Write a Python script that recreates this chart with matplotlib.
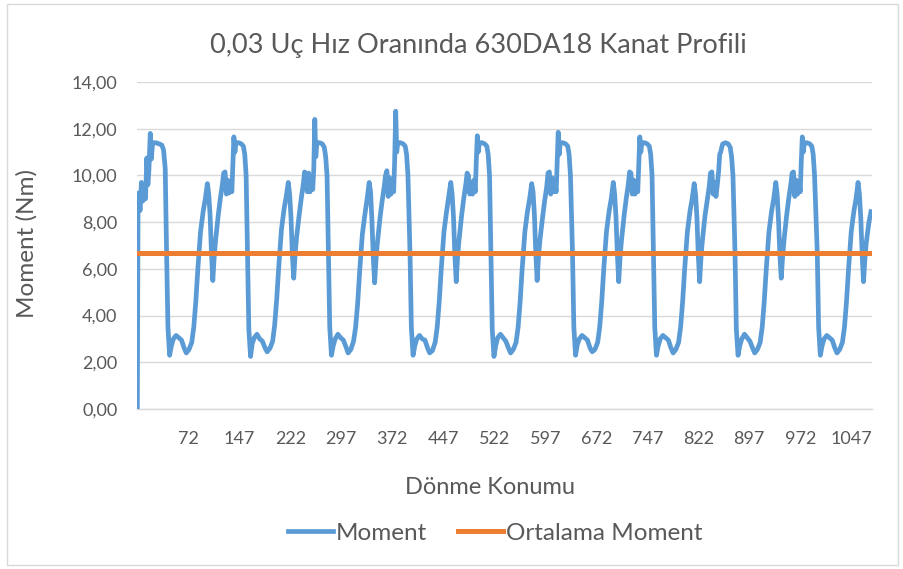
import matplotlib
matplotlib.use("Agg")
import matplotlib.pyplot as plt
from matplotlib.patches import Rectangle
from matplotlib.ticker import FuncFormatter

# ilk yarim devir (x = -3 ... 38)
bas_konum = [-3, -2, -1, 1, 3, 5, 7, 9, 11, 12.5, 14, 16, 17.5, 19.5, 24, 29, 33, 35.5, 38]
bas_moment = [0.0, 8.4, 9.25, 8.5, 9.7, 8.9, 9.1, 9.0, 10.75, 9.6, 10.2, 11.8, 10.7, 11.4,
              11.4, 11.35, 11.3, 11.1, 10.3]

# her devir icindeki konum (dusus noktasina gore, derece)
faz = [0, 2, 4.5, 7, 10, 14, 18, 22, 26, 29, 33, 37, 40, 43, 46, 50, 54, 57, 60, 62,
       64, 66, 68, 70, 72, 76, 79, 82, 84, 86, 88, 90, 92, 94, 96, 97.5, 99, 100.5, 102, 106,
       110, 113, 115, 117]

devir_baslangic = [40, 159, 278, 398, 517, 637, 756, 876, 997]

d1 = [6.7, 3.5, 2.3, 2.7, 3.0, 3.15, 3.05, 2.95, 2.6, 2.4, 2.55, 2.85, 3.5, 4.6, 6.0, 7.6, 8.5, 9.0, 9.65, 9.2,
      8.3, 6.7, 5.5, 6.5, 7.2, 8.3, 9.0, 9.6, 10.1, 10.15, 9.2, 9.8, 9.25, 9.6, 9.3, 10.5, 11.65, 11.0, 11.4, 11.4,
      11.35, 11.25, 10.9, 10.0]
d2 = [6.7, 3.4, 2.25, 2.8, 3.05, 3.2, 3.0, 2.9, 2.6, 2.45, 2.6, 2.9, 3.6, 4.7, 6.1, 7.7, 8.6, 9.1, 9.7, 9.2,
      8.2, 6.6, 5.6, 6.6, 7.3, 8.3, 9.0, 9.6, 10.15, 9.9, 9.3, 10.1, 9.3, 9.9, 9.4, 10.3, 12.4, 10.8, 11.4, 11.4,
      11.35, 11.2, 10.8, 10.0]
d3 = [6.7, 3.5, 2.3, 2.7, 3.0, 3.2, 3.05, 2.95, 2.65, 2.4, 2.55, 2.9, 3.5, 4.5, 5.9, 7.5, 8.4, 9.0, 9.7, 9.3,
      8.1, 6.5, 5.4, 6.4, 7.1, 8.2, 8.9, 9.5, 10.0, 10.2, 9.1, 9.9, 9.2, 9.7, 9.3, 10.7, 12.75, 11.0, 11.4, 11.4,
      11.35, 11.25, 10.9, 10.0]
d4 = [6.7, 3.5, 2.3, 2.7, 3.0, 3.15, 3.0, 2.95, 2.6, 2.4, 2.5, 2.85, 3.5, 4.6, 6.0, 7.6, 8.5, 9.1, 9.7, 9.2,
      8.2, 6.6, 5.45, 6.5, 7.2, 8.3, 9.0, 9.6, 10.1, 10.0, 9.2, 9.7, 9.2, 9.8, 9.3, 10.6, 11.7, 11.0, 11.4, 11.4,
      11.35, 11.25, 10.9, 10.0]
d5 = [6.7, 3.4, 2.25, 2.7, 3.05, 3.2, 3.05, 2.9, 2.6, 2.4, 2.55, 2.85, 3.5, 4.6, 6.0, 7.6, 8.5, 9.0, 9.65, 9.3,
      8.3, 6.7, 5.5, 6.5, 7.2, 8.2, 8.9, 9.5, 10.1, 10.15, 9.2, 9.9, 9.3, 9.7, 9.3, 10.6, 11.85, 10.9, 11.4, 11.4,
      11.35, 11.25, 10.9, 10.0]
d6 = [6.7, 3.5, 2.3, 2.75, 3.0, 3.15, 3.05, 2.95, 2.6, 2.45, 2.55, 2.85, 3.5, 4.6, 6.0, 7.6, 8.5, 9.0, 9.7, 9.2,
      8.2, 6.6, 5.45, 6.5, 7.2, 8.3, 9.0, 9.6, 10.15, 10.1, 9.2, 9.8, 9.2, 9.7, 9.3, 10.5, 11.65, 11.0, 11.4, 11.4,
      11.35, 11.25, 10.9, 10.0]
d7 = [6.7, 3.5, 2.3, 2.7, 3.0, 3.15, 3.05, 2.95, 2.6, 2.4, 2.55, 2.85, 3.5, 4.6, 6.0, 7.6, 8.5, 9.0, 9.65, 9.2,
      8.2, 6.6, 5.45, 6.5, 7.2, 8.3, 8.9, 9.5, 10.1, 10.15, 9.2, 9.7, 9.1, 9.6, 10.2, 10.9, 11.0, 11.2, 11.35, 11.4,
      11.35, 11.2, 10.8, 10.0]
d8 = [6.7, 3.4, 2.3, 2.7, 3.0, 3.2, 3.05, 2.9, 2.6, 2.4, 2.55, 2.85, 3.5, 4.6, 6.0, 7.6, 8.5, 9.0, 9.7, 9.2,
      8.1, 6.6, 5.6, 6.5, 7.2, 8.3, 9.0, 9.6, 10.1, 10.15, 9.1, 9.8, 9.2, 9.7, 9.3, 10.6, 11.65, 11.0, 11.4, 11.4,
      11.35, 11.25, 10.9, 10.0]
d9 = [6.7, 3.5, 2.3, 2.7, 3.0, 3.15, 3.05, 2.95, 2.6, 2.4, 2.55, 2.85, 3.5, 4.6, 6.0, 7.6, 8.5, 9.0, 9.7, 9.2,
      8.2, 6.6, 5.45, 6.4, 7.1, 8.0, 8.45]
devir_moment = [d1, d2, d3, d4, d5, d6, d7, d8, d9]

ortalama_moment = 6.69
x_etiketler = [72, 147, 222, 297, 372, 447, 522, 597, 672, 747, 822, 897, 972, 1047]
y_etiketler = [0, 2, 4, 6, 8, 10, 12, 14]

# seriyi birlestir
konum = list(bas_konum)
moment = list(bas_moment)
for bas, deger in zip(devir_baslangic, devir_moment):
    konum += [bas + f for f in faz[:len(deger)]]
    moment += deger

plt.rcParams['font.family'] = ['Lato', 'DejaVu Sans']
gri = '#595959'

fig = plt.figure(figsize=(9.04, 5.69), dpi=100)
ax = fig.add_axes([137 / 904, 1 - 409 / 569, 735 / 904, 327 / 569])

ax.plot(konum, moment, color='#5B9BD5', lw=3.4, solid_joinstyle='round', label='Moment', zorder=3)
ax.plot([konum[0], konum[-1]], [ortalama_moment, ortalama_moment], color='#ED7D31', lw=3.6,
        label='Ortalama Moment', zorder=4)

ax.set_xlim(-3.5, 1077.5)
ax.set_ylim(0, 14)
ax.set_yticks(y_etiketler)
ax.yaxis.set_major_formatter(FuncFormatter(lambda v, p: f"{v:.2f}".replace('.', ',')))
ax.set_xticks(x_etiketler)
ax.set_xticklabels([str(e) for e in x_etiketler])
ax.tick_params(length=0, labelsize=13, colors=gri)
ax.tick_params(axis='y', pad=14)
ax.tick_params(axis='x', pad=16)
ax.grid(axis='y', color='#D9D9D9', lw=1.0)
ax.set_axisbelow(True)
for k in ['top', 'right', 'left']:
    ax.spines[k].set_visible(False)
ax.spines['bottom'].set_color('#D9D9D9')
ax.spines['bottom'].set_linewidth(1.0)

fig.text(478 / 904, 1 - 46 / 569, '0,03 Uç Hız Oranında 630DA18 Kanat Profili', ha='center', va='center',
         fontsize=19.5, color=gri)
fig.text(27 / 904, 1 - 244 / 569, 'Moment (Nm)', rotation=90, ha='center', va='center',
         fontsize=17.5, color=gri)
fig.text(490 / 904, 1 - 488 / 569, 'Dönme Konumu', ha='center', va='center', fontsize=17, color=gri)

fig.legend(loc='center', bbox_to_anchor=(495 / 904, 1 - 533 / 569), ncol=2, frameon=False,
           fontsize=17.5, handlelength=1.85, handletextpad=0.12, columnspacing=1.27, labelcolor=gri)

fig.add_artist(Rectangle((7 / 904, 4 / 569), 891 / 904, 561 / 569, transform=fig.transFigure,
                         fill=False, edgecolor='#D9D9D9', lw=1.0))

fig.savefig('out.png', dpi=100)
